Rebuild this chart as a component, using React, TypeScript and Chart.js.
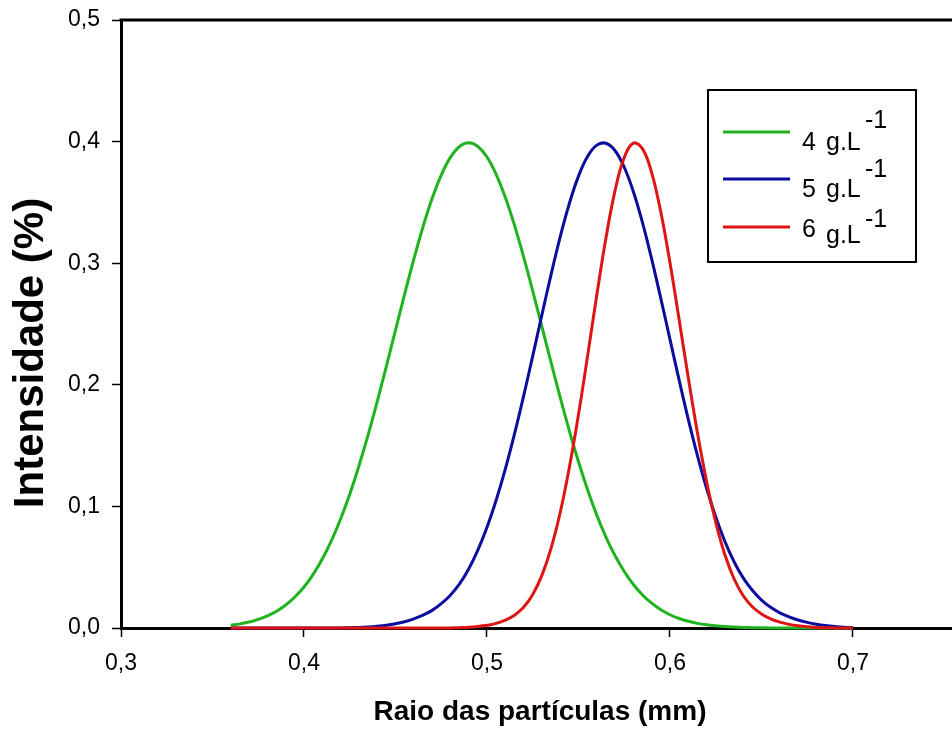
import React, { useEffect, useRef } from "react";
import { Chart, registerables } from "chart.js";

Chart.register(...registerables);

// Raio das partículas (mm)
const radius = [
  0.36, 0.365, 0.37, 0.375, 0.38, 0.385, 0.39, 0.395, 0.4, 0.405, 0.41, 0.415,
  0.42, 0.425, 0.43, 0.435, 0.44, 0.445, 0.45, 0.455, 0.46, 0.465, 0.47, 0.475,
  0.48, 0.485, 0.49, 0.495, 0.5, 0.505, 0.51, 0.515, 0.52, 0.525, 0.53, 0.535,
  0.54, 0.545, 0.55, 0.555, 0.56, 0.565, 0.57, 0.575, 0.58, 0.585, 0.59, 0.595,
  0.6, 0.605, 0.61, 0.615, 0.62, 0.625, 0.63, 0.635, 0.64, 0.645, 0.65, 0.655,
  0.66, 0.665, 0.67, 0.675, 0.68, 0.685, 0.69, 0.695, 0.7,
];

// Intensidade (%) — 4 g.L-1
const green4 = [
  0.0023, 0.0034, 0.0049, 0.0071, 0.01, 0.0138, 0.0189, 0.0255, 0.0337, 0.0441, 0.0567, 0.0718,
  0.0896, 0.11, 0.1332, 0.1586, 0.1862, 0.2152, 0.245, 0.2746, 0.3032, 0.3298, 0.3532, 0.3725,
  0.387, 0.396, 0.399, 0.396, 0.3873, 0.3731, 0.3542, 0.3313, 0.3052, 0.2771, 0.2478, 0.2184,
  0.1896, 0.1622, 0.1367, 0.1135, 0.0928, 0.0748, 0.0594, 0.0465, 0.0358, 0.0272, 0.0204, 0.015,
  0.0109, 0.0078, 0.0055, 0.0038, 0.0026, 0.0018, 0.0012, 0.0008, 0.0005, 0.0003, 0.0002, 0.0001,
  0.0001, 0, 0, 0, 0, 0, 0, 0, 0,
];

// Intensidade (%) — 5 g.L-1
const blue5 = [
  0, 0, 0, 0, 0, 0, 0, 0, 0, 0, 0, 0,
  0.0001, 0.0003, 0.0005, 0.0009, 0.0015, 0.0023, 0.0035, 0.0052, 0.0075, 0.0105, 0.0145, 0.02,
  0.027, 0.0362, 0.0485, 0.064, 0.0828, 0.105, 0.1306, 0.1594, 0.1907, 0.2238, 0.2575, 0.2906,
  0.3217, 0.3491, 0.3716, 0.3879, 0.3971, 0.3986, 0.3925, 0.3789, 0.3588, 0.3332, 0.3034, 0.2709,
  0.2373, 0.2038, 0.1716, 0.1418, 0.1148, 0.0912, 0.0711, 0.0545, 0.0412, 0.031, 0.023, 0.017,
  0.0125, 0.0092, 0.0066, 0.0046, 0.0031, 0.002, 0.0012, 0.0006, 0.0002,
];

// Intensidade (%) — 6 g.L-1
const red6 = [
  0, 0, 0, 0, 0, 0, 0, 0, 0, 0, 0, 0,
  0, 0, 0, 0, 0, 0, 0, 0, 0, 0, 0, 0,
  0.0001, 0.0003, 0.0006, 0.0012, 0.0022, 0.0038, 0.0065, 0.0105, 0.017, 0.0276, 0.0433, 0.0655,
  0.095, 0.132, 0.1756, 0.224, 0.2738, 0.3207, 0.3599, 0.3869, 0.3987, 0.394, 0.3743, 0.3419,
  0.3003, 0.2535, 0.2058, 0.1606, 0.1205, 0.0869, 0.0602, 0.0405, 0.0265, 0.0175, 0.0115, 0.0075,
  0.0048, 0.003, 0.0018, 0.001, 0.0005, 0.0002, 0.0001, 0, 0,
];

const seriesNumbers = ["4", "5", "6"];
const unitText = "g.L";
const supText = "-1";
const xTitle = "Raio das partículas (mm)";
const yTitle = "Intensidade (%)";
const xMin = 0.3;
const xMax = 0.7541;
const yMin = 0;
const yMax = 0.5;
const tickStep = 0.1;

const FONT = '"Liberation Sans", Arial, sans-serif';
const COLORS = ["#1fb41f", "#0c0c9e", "#dd1515"];

const fmt = (v: number) => Number(v).toFixed(1).replace(".", ",");

const zeroPad = (s: any) => {
  s.paddingTop = 0;
  s.paddingBottom = 0;
  s.paddingLeft = 0;
  s.paddingRight = 0;
};

const decorPlugin = {
  id: "decor",
  beforeDatasetsDraw(chart: any) {
    const { ctx, chartArea: a } = chart;
    ctx.save();
    ctx.strokeStyle = "#000";
    ctx.lineWidth = 3;
    ctx.beginPath();
    ctx.moveTo(a.left - 1.5, a.top);
    ctx.lineTo(a.right, a.top);
    ctx.stroke();
    ctx.restore();
  },
  afterDraw(chart: any) {
    const { ctx } = chart;
    ctx.save();
    // Axis titles
    ctx.fillStyle = "#000";
    ctx.font = `bold 28px ${FONT}`;
    ctx.textAlign = "center";
    ctx.textBaseline = "alphabetic";
    ctx.fillText(xTitle, 540, 720);

    ctx.save();
    ctx.translate(43, 353);
    ctx.rotate(-Math.PI / 2);
    ctx.font = `bold 42px ${FONT}`;
    ctx.textAlign = "center";
    ctx.textBaseline = "alphabetic";
    ctx.fillText(yTitle, 0, 0);
    ctx.restore();

    // Legend box
    ctx.fillStyle = "#fff";
    ctx.fillRect(708, 90, 208, 172);
    ctx.strokeStyle = "#000";
    ctx.lineWidth = 2;
    ctx.strokeRect(708, 90, 208, 172);

    const lineY = [132, 179, 227];
    const numBase = [150, 197, 237];
    const unitBase = [150, 197, 243];
    const supBase = [128, 177, 227];
    chart.data.datasets.forEach((ds: any, i: number) => {
      ctx.strokeStyle = ds.borderColor;
      ctx.lineWidth = 3;
      ctx.beginPath();
      ctx.moveTo(723, lineY[i]);
      ctx.lineTo(790, lineY[i]);
      ctx.stroke();
      ctx.fillStyle = "#000";
      ctx.font = `25px ${FONT}`;
      ctx.textAlign = "left";
      ctx.textBaseline = "alphabetic";
      ctx.fillText(seriesNumbers[i], 802, numBase[i]);
      ctx.fillText(unitText, 826, unitBase[i]);
      ctx.fillText(supText, 865, supBase[i]);
    });
    ctx.restore();
  },
};

export default function App() {
  const ref = useRef<HTMLCanvasElement>(null);

  useEffect(() => {
    if (!ref.current) return;
    const mk = (arr: number[]) => radius.map((x, i) => ({ x, y: arr[i] }));
    const common = {
      pointRadius: 0,
      borderWidth: 3,
      fill: false,
      tension: 0.4,
      clip: false as const,
    };
    const chart = new Chart(ref.current, {
      type: "line",
      data: {
        datasets: [
          { label: "4 g.L-1", data: mk(green4), borderColor: COLORS[0], order: 3, ...common },
          { label: "5 g.L-1", data: mk(blue5), borderColor: COLORS[1], order: 2, ...common },
          { label: "6 g.L-1", data: mk(red6), borderColor: COLORS[2], order: 1, ...common },
        ],
      },
      options: {
        animation: false,
        responsive: false,
        devicePixelRatio: 1,
        layout: { padding: { top: 20, left: 0, right: 0, bottom: 0 } },
        plugins: { legend: { display: false }, tooltip: { enabled: false } },
        scales: {
          x: {
            type: "linear",
            min: xMin,
            max: xMax,
            z: -1,
            afterFit: (s: any) => {
              s.height = 102;
              zeroPad(s);
            },
            grid: {
              display: true,
              drawOnChartArea: false,
              drawTicks: true,
              tickLength: 9,
              tickColor: "#000",
              tickWidth: 1.5,
            },
            border: { display: true, color: "#000", width: 3 },
            ticks: {
              stepSize: tickStep,
              includeBounds: false,
              color: "#000",
              font: { family: FONT, size: 23 },
              padding: 13,
              maxRotation: 0,
              callback: (v: any) => fmt(v),
            },
            title: { display: false },
          },
          y: {
            type: "linear",
            min: yMin,
            max: yMax,
            z: -1,
            afterFit: (s: any) => {
              s.width = 121;
              zeroPad(s);
            },
            grid: {
              display: true,
              drawOnChartArea: false,
              drawTicks: true,
              tickLength: 9,
              tickColor: "#000",
              tickWidth: 1.5,
            },
            border: { display: true, color: "#000", width: 3 },
            ticks: {
              stepSize: tickStep,
              color: "#000",
              font: { family: FONT, size: 23 },
              padding: 12,
              callback: (v: any) => fmt(v),
            },
            title: { display: false },
          },
        },
      },
      plugins: [decorPlugin],
    });
    return () => chart.destroy();
  }, []);

  return (
    <div style={{ position: "absolute", left: 0, top: 0, width: 952, height: 730, background: "#fff" }}>
      <canvas ref={ref} width={952} height={730} style={{ width: 952, height: 730, display: "block" }} />
    </div>
  );
}
